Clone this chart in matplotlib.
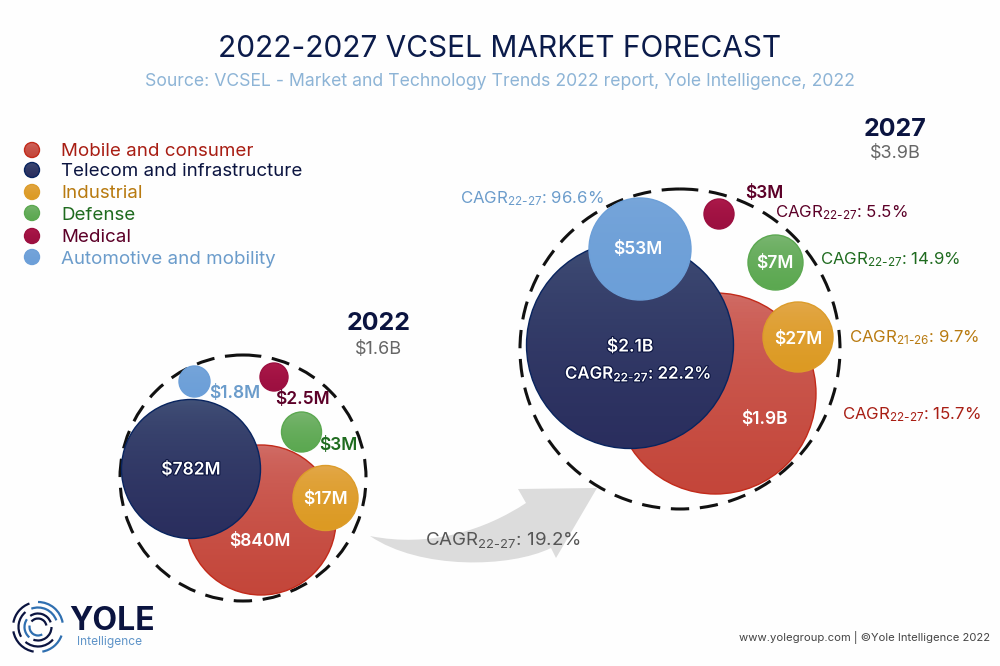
import numpy as np
import matplotlib
matplotlib.use("Agg")
from matplotlib import pyplot as plt
from matplotlib.patches import Circle, PathPatch, Arc
from matplotlib.path import Path
from matplotlib.colors import LinearSegmentedColormap
import matplotlib.patheffects as pe

plt.rcParams['font.family'] = ['Inter', 'DejaVu Sans']
plt.rcParams['mathtext.fontset'] = 'custom'
plt.rcParams['mathtext.rm'] = 'Inter'
plt.rcParams['mathtext.default'] = 'regular'

# data
segments = ["Mobile and consumer", "Telecom and infrastructure", "Industrial",
            "Defense", "Medical", "Automotive and mobility"]
labels_2022 = ["$840M", "$782M", "$17M", "$3M", "$2.5M", "$1.8M"]
labels_2027 = ["$1.9B", "$2.1B", "$27M", "$7M", "$3M", "$53M"]
cagr_2027 = ["15.7%", "22.2%", "9.7%", "14.9%", "5.5%", "96.6%"]
cagr_period = ["22-27", "22-27", "21-26", "22-27", "22-27", "22-27"]
total_2022 = "$1.6B"
total_2027 = "$3.9B"
cagr_total = "19.2%"

# bubble layout, in pixels
x_2022 = [261, 191, 325.5, 301.5, 274, 194.5]
y_2022 = [520, 469, 498, 432, 377, 381.5]
r_2022 = [75, 69.5, 32.5, 20, 14, 15.5]
x_2027 = [715.5, 630, 798, 775.5, 719, 640]
y_2027 = [393.5, 345, 337, 262.5, 214, 249]
r_2027 = [100.5, 103.5, 35, 27.5, 15, 51]

# colours
grad_top = ["#d2706a", "#44547a", "#e4aa50", "#80b877", "#b01c4c", "#78a6da"]
grad_bot = ["#c4463a", "#2a2e5e", "#dc9a22", "#5ba850", "#9c0f40", "#6c9fd8"]
edge_cols = ["#c22a1a", "#08245f", "#dc9c2a", "#5ba850", "#9c0f40", "#6c9fd8"]
text_cols = ["#a81e14", "#0b1440", "#b87a10", "#1f6b1f", "#5c0028", "#6b9ccb"]
navy_halo = [pe.withStroke(linewidth=1.6, foreground='#0b1440')]


def bubble(ax, x, y, r, i, z):
    cmap = LinearSegmentedColormap.from_list("b", [grad_top[i], grad_bot[i]])
    im = ax.imshow(np.sqrt(np.linspace(0, 1, 64)).reshape(-1, 1), cmap=cmap, aspect='auto',
                   extent=(x - r, x + r, y + r, y - r), zorder=z)
    c = Circle((x, y), r, facecolor='none', edgecolor=edge_cols[i], lw=1.0, zorder=z + 0.1)
    ax.add_patch(c)
    im.set_clip_path(c)


def cagr(period, val):
    return "CAGR$_{" + period.replace("-", r"\text{-}") + "}$: " + val


fig = plt.figure(figsize=(10, 6.66), dpi=100, facecolor='#fefefe')
ax = fig.add_axes([0, 0, 1, 1])

# 제목
ax.text(500, 49, "2022-2027 VCSEL MARKET FORECAST", ha='center', va='center',
        fontsize=21.5, color='#0b1b4a')
ax.text(500, 81, "Source: VCSEL - Market and Technology Trends 2022 report, Yole Intelligence, 2022",
        ha='center', va='center', fontsize=12.7, color='#8db4d6')

# legend
legend_y = [150, 170, 192, 213, 236, 257]
for i in range(6):
    bubble(ax, 32, legend_y[i], 7.5, i, 3)
    ax.text(61, legend_y[i] + 2, segments[i], ha='left', va='center', fontsize=13.5, color=text_cols[i])

# dashed outlines
ax.add_patch(Circle((243, 478), 123, fill=False, ec='#111111', lw=2.2, ls=(0, (6, 3.5)), zorder=2))
ax.add_patch(Circle((680, 349), 160, fill=False, ec='#111111', lw=2.2, ls=(0, (6, 3.5)), zorder=2))

# bubbles
for i in range(6):
    bubble(ax, x_2022[i], y_2022[i], r_2022[i], i, 3 + i)
    bubble(ax, x_2027[i], y_2027[i], r_2027[i], i, 3 + i)

# arrow
verts = [(370, 536), (430, 548), (485, 530), (526, 503), (518, 489), (597, 488),
         (556, 558), (551, 548), (510, 568), (420, 570), (370, 536)]
codes = [Path.MOVETO, Path.CURVE4, Path.CURVE4, Path.CURVE4, Path.LINETO, Path.LINETO,
         Path.LINETO, Path.LINETO, Path.CURVE4, Path.CURVE4, Path.CURVE4]
ax.add_patch(PathPatch(Path(verts, codes), fc='#dcdcdc', ec='none', zorder=1))
ax.text(503, 540, cagr("22-27", cagr_total), ha='center', va='center', fontsize=13.5,
        color='#555555', zorder=12)

# 2022 labels
ax.text(379, 324, "2022", ha='center', va='center', fontsize=18, fontweight='bold', color='#0b1440')
ax.text(379, 350, total_2022, ha='center', va='center', fontsize=13, color='#666666')
val_pos_2022 = [(260, 542), (191, 470), (325, 499), (338, 445), (302, 400), (235, 394)]
val_col_2022 = ['white', 'white', 'white', text_cols[3], text_cols[4], text_cols[5]]
for i in range(6):
    t = ax.text(val_pos_2022[i][0], val_pos_2022[i][1], labels_2022[i], ha='center', va='center',
                fontsize=12.5, fontweight='semibold', color=val_col_2022[i], zorder=12)
    if i == 1:
        t.set_path_effects(navy_halo)

# 2027 labels
ax.text(895, 129, "2027", ha='center', va='center', fontsize=18, fontweight='bold', color='#0b1440')
ax.text(895, 154, total_2027, ha='center', va='center', fontsize=13, color='#666666')
val_pos_2027 = [(764, 420), (630, 347), (798, 339), (775, 264), (764, 193), (638, 249)]
val_col_2027 = ['white', 'white', 'white', 'white', text_cols[4], 'white']
for i in range(6):
    t = ax.text(val_pos_2027[i][0], val_pos_2027[i][1], labels_2027[i], ha='center', va='center',
                fontsize=12.5, fontweight='semibold', color=val_col_2027[i], zorder=12)
    if i == 1:
        t.set_path_effects(navy_halo)

cagr_pos = [(842, 415), (565, 374), (849, 338), (820, 260), (775, 213), (460, 199)]
cagr_col = [text_cols[0], 'white', text_cols[2], text_cols[3], text_cols[4], text_cols[5]]
for i in range(6):
    t = ax.text(cagr_pos[i][0], cagr_pos[i][1], cagr(cagr_period[i], cagr_2027[i]), ha='left', va='center',
                fontsize=12.1, color=cagr_col[i], zorder=12)
    if i == 1:
        t.set_fontweight('semibold')
        t.set_path_effects(navy_halo)

# logo
rings = [(25, [(20, 80), (100, 170), (190, 250), (270, 350)]),
         (19.5, [(40, 130), (150, 230), (250, 340)]),
         (13.5, [(0, 110), (130, 215), (235, 340)]),
         (8.5, [(60, 190), (220, 350)])]
for n, (r, spans) in enumerate(rings):
    for k, (a, b) in enumerate(spans):
        col = '#2f6fb0' if (n + k) % 3 == 0 else '#0b1440'
        ax.add_patch(Arc((38, 627), 2 * r, 2 * r, theta1=a, theta2=b, ec=col, lw=1.6, zorder=3))
ax.text(69, 621, "YOLE", ha='left', va='center', fontsize=23, fontweight='bold', color='#0b1440')
ax.text(77, 642, "Intelligence", ha='left', va='center', fontsize=8.6, color='#5f94c8')

# footer
ax.text(990, 638, "www.yolegroup.com | ©Yole Intelligence 2022", ha='right', va='center',
        fontsize=8.1, color='#444444')

ax.set_xlim(0, 1000)
ax.set_ylim(666, 0)
ax.axis('off')

fig.savefig("out.png", dpi=100, facecolor=fig.get_facecolor())
